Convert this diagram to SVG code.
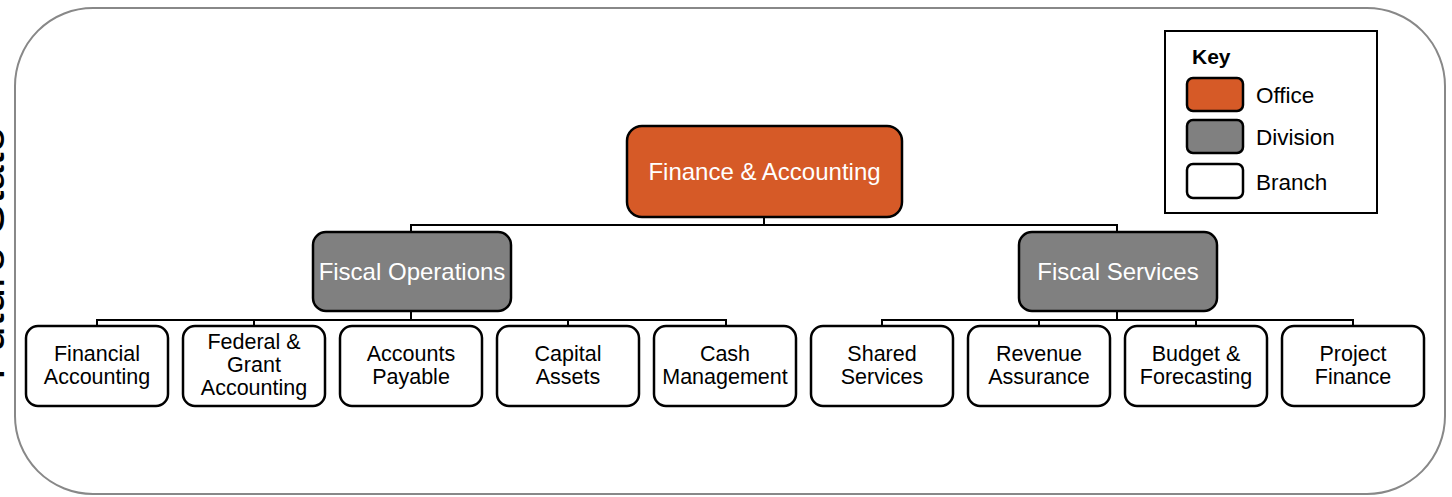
<svg xmlns="http://www.w3.org/2000/svg" width="1452" height="497" viewBox="0 0 1452 497">
<style>
text{font-family:"Liberation Sans",Arial,sans-serif;}
.box{stroke:#000;stroke-width:2.5;}
.office{fill:#D65A27;}
.division{fill:#808080;}
.branch{fill:#FFFFFF;}
.lt{fill:#FFFFFF;font-size:24px;text-anchor:middle;}
.bt{fill:#000;font-size:21.5px;text-anchor:middle;}
.conn{fill:none;stroke:#000;stroke-width:2;}
.kt{fill:#000;font-size:22.5px;}
</style>
<rect x="15" y="8" width="1430" height="486" rx="78" ry="78" fill="#FFFFFF" stroke="#888888" stroke-width="2"/>
<text transform="translate(4,380) rotate(-90)" font-size="46" fill="#000">Future State</text>
<g id="connectors">
<path class="conn" d="M764,217 V225 M411,232 V225 H1117 V232"/>
<path class="conn" d="M411,311 V320 M97,326 V320 H726 V326 M254,320 V326 M568,320 V326"/>
<path class="conn" d="M1117,311 V320 M882,326 V320 H1353 V326 M1039,320 V326 M1196,320 V326"/>
</g>
<g id="finance-accounting">
<rect class="box office" x="627" y="126" width="275" height="91" rx="15"/>
<text class="lt" x="764.5" y="179.5">Finance &amp; Accounting</text>
</g>
<g id="fiscal-operations">
<rect class="box division" x="313" y="232" width="198" height="79" rx="13"/>
<text class="lt" x="412" y="280">Fiscal Operations</text>
</g>
<g id="fiscal-services">
<rect class="box division" x="1019" y="232" width="198" height="79" rx="13"/>
<text class="lt" x="1118" y="280">Fiscal Services</text>
</g>
<g id="financial-accounting">
<rect class="box branch" x="26" y="326" width="142" height="80" rx="12"/>
<text class="bt" x="97" y="361">Financial</text><text class="bt" x="97" y="384">Accounting</text>
</g>
<g id="federal-grant-accounting">
<rect class="box branch" x="183" y="326" width="142" height="80" rx="12"/>
<text class="bt" x="254" y="349">Federal &amp;</text><text class="bt" x="254" y="372">Grant</text><text class="bt" x="254" y="395">Accounting</text>
</g>
<g id="accounts-payable">
<rect class="box branch" x="340" y="326" width="142" height="80" rx="12"/>
<text class="bt" x="411" y="361">Accounts</text><text class="bt" x="411" y="384">Payable</text>
</g>
<g id="capital-assets">
<rect class="box branch" x="497" y="326" width="142" height="80" rx="12"/>
<text class="bt" x="568" y="361">Capital</text><text class="bt" x="568" y="384">Assets</text>
</g>
<g id="cash-management">
<rect class="box branch" x="654" y="326" width="142" height="80" rx="12"/>
<text class="bt" x="725" y="361">Cash</text><text class="bt" x="725" y="384">Management</text>
</g>
<g id="shared-services">
<rect class="box branch" x="811" y="326" width="142" height="80" rx="12"/>
<text class="bt" x="882" y="361">Shared</text><text class="bt" x="882" y="384">Services</text>
</g>
<g id="revenue-assurance">
<rect class="box branch" x="968" y="326" width="142" height="80" rx="12"/>
<text class="bt" x="1039" y="361">Revenue</text><text class="bt" x="1039" y="384">Assurance</text>
</g>
<g id="budget-forecasting">
<rect class="box branch" x="1125" y="326" width="142" height="80" rx="12"/>
<text class="bt" x="1196" y="361">Budget &amp;</text><text class="bt" x="1196" y="384">Forecasting</text>
</g>
<g id="project-finance">
<rect class="box branch" x="1282" y="326" width="142" height="80" rx="12"/>
<text class="bt" x="1353" y="361">Project</text><text class="bt" x="1353" y="384">Finance</text>
</g>
<g id="key">
<rect x="1165" y="31" width="212" height="182" fill="#FFFFFF" stroke="#000" stroke-width="2"/>
<text x="1192" y="64" font-size="21" font-weight="bold" fill="#000">Key</text>
<rect class="box office" x="1187" y="78" width="56" height="33" rx="6"/>
<text class="kt" x="1256" y="103">Office</text>
<rect class="box division" x="1187" y="120" width="56" height="33" rx="6"/>
<text class="kt" x="1256" y="145">Division</text>
<rect class="box branch" x="1187" y="164" width="56" height="34" rx="6"/>
<text class="kt" x="1256" y="190">Branch</text>
</g>
</svg>
